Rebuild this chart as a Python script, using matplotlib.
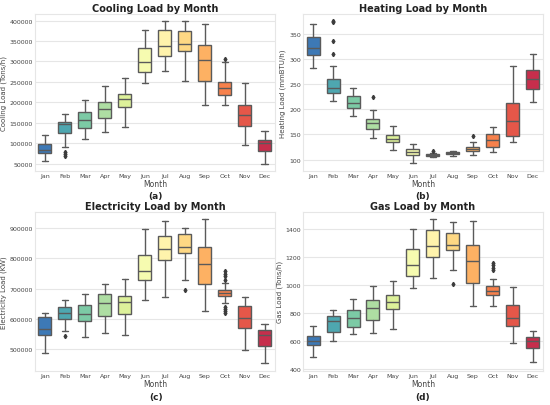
import numpy as np
import matplotlib
matplotlib.use("Agg")
import matplotlib.pyplot as plt
import seaborn as sns

months = ["Jan", "Feb", "Mar", "Apr", "May", "Jun", "Jul", "Aug", "Sep", "Oct", "Nov", "Dec"]

# each list: [whisker low, q1, median, q3, whisker high]
cooling = [
    [58000, 77000, 83500, 98000, 120000],
    [92000, 126000, 146000, 151000, 172000],
    [111000, 138000, 157000, 177500, 207000],
    [127000, 163000, 185000, 200500, 240500],
    [140500, 188000, 208000, 221000, 258500],
    [247000, 274000, 298500, 334000, 377000],
    [277000, 312500, 337000, 376000, 400000],
    [253000, 325000, 342000, 374000, 398000],
    [194500, 253500, 302500, 340000, 392000],
    [194500, 217000, 235000, 251000, 298000],
    [95000, 141500, 169500, 194000, 248500],
    [49000, 81000, 100000, 107000, 130000],
]
cooling_out = {1: [79000, 73000, 69000], 9: [306000]}

heating = [
    [281, 308, 321, 342.7, 368.5],
    [216.8, 232, 243, 259.6, 286],
    [185.8, 201.6, 212, 225.3, 243],
    [143, 161.4, 173, 180, 198.3],
    [118.5, 135, 141.6, 148.8, 166.6],
    [92.8, 109.3, 114.5, 120.5, 130.4],
    [105.3, 107.3, 109.3, 111.2, 113.2],
    [107.3, 111.2, 113.2, 115.2, 117.8],
    [110, 116.5, 120.5, 124.4, 134.3],
    [115.2, 125.7, 139, 150.8, 164],
    [134.3, 147.5, 176.5, 212, 286.7],
    [214, 239.2, 259, 278.8, 310],
]
heating_out = {1: [375.7, 372.5, 335.5, 310], 3: [223.4], 6: [117.8], 8: [146.8]}

electricity = [
    [487000, 546000, 566000, 606000, 621000],
    [559500, 601000, 619000, 639000, 662000],
    [541000, 594000, 616000, 645500, 681000],
    [555000, 610000, 652000, 683000, 714000],
    [548500, 617000, 657500, 675000, 732500],
    [664000, 729000, 759000, 811000, 895500],
    [673000, 794000, 830500, 874500, 922000],
    [730000, 816000, 837000, 880000, 899000],
    [628000, 715000, 782000, 836000, 928500],
    [652000, 675000, 686000, 694000, 718000],
    [499000, 569400, 603500, 642000, 673000],
    [457000, 513000, 546000, 563000, 585000],
]
electricity_out = {1: [545000], 7: [696000],
                   9: [757000, 749000, 741000, 730000, 641000, 634000, 627000, 619000]}

gas = [
    [490, 573, 604, 640, 711],
    [604, 668.5, 742, 780, 825],
    [652, 699.5, 766, 825, 899],
    [659, 752, 837, 894, 991.5],
    [687.5, 827.6, 877.5, 930, 1029.5],
    [975, 1060, 1139, 1255, 1400],
    [1046, 1198, 1274, 1386, 1466.5],
    [1108, 1250, 1283.6, 1369, 1447.5],
    [847, 1010.5, 1167, 1281, 1452],
    [847, 927.4, 958, 989, 1044],
    [590, 711, 763.5, 858.5, 987],
    [450, 550, 602, 628, 671],
]
gas_out = {7: [1006], 9: [1155, 1139, 1122, 1108]}

panels = [
    ("Cooling Load by Month", "Cooling Load (Tons/h)", cooling, cooling_out, (32000, 416000), np.arange(50000, 400001, 50000), "(a)"),
    ("Heating Load by Month", "Heating Load (mmBTU/h)", heating, heating_out, (77, 389), np.arange(100, 351, 50), "(b)"),
    ("Electricity Load by Month", "Electricity Load (KW)", electricity, electricity_out, (429500, 953000), np.arange(500000, 900001, 100000), "(c)"),
    ("Gas Load by Month", "Gas Load (Tons/h)", gas, gas_out, (390, 1519), np.arange(400, 1401, 200), "(d)"),
]

rects = [
    [0.0636, 0.576, 0.436, 0.387],
    [0.551, 0.576, 0.436, 0.387],
    [0.0636, 0.084, 0.436, 0.392],
    [0.551, 0.084, 0.436, 0.392],
]
captions = [(0.282, 0.517), (0.769, 0.517), (0.284, 0.02), (0.769, 0.02)]

sns.set_style("whitegrid")
colors = sns.color_palette("Spectral_r", 12)
edge = "#5a5a5a"

fig = plt.figure(figsize=(5.5, 4.06), dpi=100)

for (title, ylabel, data, outl, ylim, ticks, cap), rect, cpos in zip(panels, rects, captions):
    ax = fig.add_axes(rect)
    stats = []
    for i, (lo, q1, med, q3, hi) in enumerate(data):
        stats.append(dict(whislo=lo, q1=q1, med=med, q3=q3, whishi=hi,
                          fliers=outl.get(i, [])))
    bp = ax.bxp(stats, positions=np.arange(12), widths=0.65, capwidths=0.33,
                patch_artist=True, showfliers=True,
                boxprops=dict(edgecolor=edge, linewidth=1.0),
                medianprops=dict(color=edge, linewidth=1.0),
                whiskerprops=dict(color=edge, linewidth=1.0),
                capprops=dict(color=edge, linewidth=1.0),
                flierprops=dict(marker="d", markersize=2.2, markerfacecolor="#3c3c3c",
                                markeredgecolor="#3c3c3c", linestyle="none"))
    for patch, c in zip(bp["boxes"], colors):
        patch.set_facecolor(c)
    ax.set_xlim(-0.5, 11.5)
    ax.set_ylim(*ylim)
    ax.set_yticks(ticks)
    ax.ticklabel_format(axis="y", style="plain", useOffset=False)
    ax.set_xticks(np.arange(12))
    ax.set_xticklabels(months)
    ax.tick_params(labelsize=4.5, colors="#444444", pad=1.5, length=0)
    ax.grid(axis="x", visible=False)
    ax.grid(axis="y", color="#e6e6e6", linewidth=0.8)
    for s in ax.spines.values():
        s.set_color("#e6e6e6")
        s.set_linewidth(0.8)
    ax.set_title(title, fontsize=7, fontweight="bold", color="#222222", pad=2)
    ax.set_xlabel("Month", fontsize=5.5, color="#444444", labelpad=0.5)
    ax.set_ylabel(ylabel, fontsize=5, color="#444444", labelpad=2)
    fig.text(cpos[0], cpos[1], cap, fontsize=6.5, fontweight="bold", ha="center", va="center",
             color="#222222")

fig.savefig("out.png", dpi=100)
